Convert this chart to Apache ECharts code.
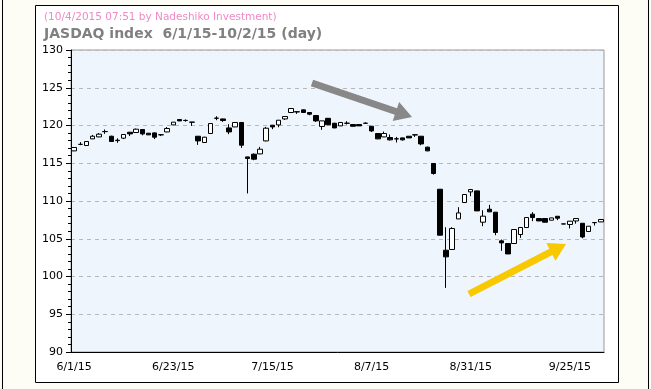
<!DOCTYPE html>
<html><head><meta charset="utf-8">
<script src="https://cdn.jsdelivr.net/npm/echarts@6/dist/echarts.min.js"></script>
<style>html,body{margin:0;padding:0;background:#fdfdf6;}#c{width:651px;height:389px;}</style>
</head><body><div id="c"></div>
<script>
const categories = [
 '6/1/15','6/2/15','6/3/15','6/4/15','6/5/15','6/8/15','6/9/15','6/10/15','6/11/15','6/12/15',
 '6/15/15','6/16/15','6/17/15','6/18/15','6/19/15','6/22/15','6/23/15','6/24/15','6/25/15','6/26/15',
 '6/29/15','6/30/15','7/1/15','7/2/15','7/3/15','7/6/15','7/7/15','7/8/15','7/9/15','7/10/15',
 '7/13/15','7/14/15','7/15/15','7/16/15','7/17/15','7/21/15','7/22/15','7/23/15','7/24/15','7/27/15',
 '7/28/15','7/29/15','7/30/15','7/31/15','8/3/15','8/4/15','8/5/15','8/6/15','8/7/15','8/10/15',
 '8/11/15','8/12/15','8/13/15','8/14/15','8/17/15','8/18/15','8/19/15','8/20/15','8/21/15','8/24/15',
 '8/25/15','8/26/15','8/27/15','8/28/15','8/31/15','9/1/15','9/2/15','9/3/15','9/4/15','9/7/15',
 '9/8/15','9/9/15','9/10/15','9/11/15','9/14/15','9/15/15','9/16/15','9/17/15','9/18/15','9/24/15',
 '9/25/15','9/28/15','9/29/15','9/30/15','10/1/15','10/2/15'
];
const openValues = [
 116.64,117.50,117.35,118.23,118.49,119.20,118.58,118.05,118.32,119.11,
 119.07,119.47,118.98,119.02,118.78,119.15,120.08,120.79,120.68,120.45,
 118.58,117.75,118.94,120.98,120.87,119.68,119.81,120.40,115.84,116.20,
 116.24,117.96,120.04,120.08,120.87,121.72,121.82,122.07,121.72,121.32,
 119.87,120.95,120.30,119.95,120.31,120.13,120.13,120.31,119.90,118.94,
 118.49,118.41,118.24,118.36,118.58,118.77,118.58,117.13,114.97,111.56,
 103.48,103.58,107.63,109.80,111.21,111.34,107.19,108.91,108.52,104.72,
 104.37,104.37,105.56,106.49,108.25,107.68,107.68,107.46,107.98,106.97,
 106.89,107.36,107.05,105.96,107.15,107.23
];
const closeValues = [
 117.09,117.50,117.88,118.58,118.85,119.19,117.88,118.00,118.81,118.89,
 119.51,118.89,118.76,118.45,118.76,119.60,120.44,120.61,120.66,120.44,
 117.96,118.45,120.26,120.96,120.66,119.15,120.40,117.39,115.63,115.54,
 116.86,119.64,119.81,120.70,121.19,122.25,121.80,121.72,121.50,120.61,
 120.61,120.10,119.68,120.40,120.29,119.90,119.95,120.29,119.28,118.23,
 118.94,118.10,118.22,118.10,118.36,118.75,117.56,116.64,113.64,105.47,
 102.60,106.36,108.42,110.86,111.52,108.69,107.99,108.56,105.83,104.45,
 102.99,106.22,106.49,107.81,107.81,107.36,107.19,107.76,107.72,106.95,
 107.33,107.68,105.24,106.66,107.13,107.55
];
const lowValues = [
 116.60,117.40,117.33,118.20,118.45,118.89,117.85,117.70,118.20,118.60,
 119.05,118.70,118.74,118.20,118.60,119.10,120.05,120.58,120.50,119.95,
 117.43,117.70,118.90,120.70,120.48,118.85,119.78,117.03,111.00,115.40,
 116.20,117.90,119.51,119.77,120.74,121.70,121.54,121.70,121.36,120.48,
 119.42,120.05,119.64,119.93,120.13,119.84,119.93,120.25,119.15,118.20,
 118.47,118.01,117.75,118.00,118.34,118.49,117.39,116.60,113.50,105.45,
 98.49,103.56,107.60,109.78,110.64,108.67,106.66,108.54,105.47,103.40,
 102.97,104.35,105.11,106.47,107.33,107.34,107.17,107.44,107.46,106.93,
 106.36,107.00,105.06,105.94,106.75,107.21
];
const highValues = [
 117.11,117.80,117.90,118.75,119.00,119.47,118.65,118.30,118.85,119.15,
 119.60,119.50,119.00,119.10,118.80,119.80,120.46,120.80,120.80,120.46,
 118.60,118.50,120.30,121.23,120.90,120.17,120.42,120.42,115.86,116.30,
 117.17,119.81,120.06,120.72,121.20,122.27,121.84,122.10,121.74,121.40,
 120.63,121.00,120.35,120.42,120.57,120.15,120.15,120.40,119.92,118.96,
 119.20,118.81,118.49,118.38,118.60,118.78,118.60,117.20,115.00,111.58,
 106.53,106.53,109.18,110.90,111.54,111.36,108.78,109.49,108.54,104.90,
 104.39,106.24,106.51,107.83,108.52,107.70,107.70,107.78,108.00,106.99,
 107.35,107.70,107.07,106.68,107.16,107.57
];
const yTicks = [90, 95, 100, 105, 110, 115, 120, 125, 130];
const titleMain = 'JASDAQ index  6/1/15-10/2/15 (day)';
const titleSub = '(10/4/2015 07:51 by Nadeshiko Investment)';

const candleData = openValues.map((o, i) => [o, closeValues[i], lowValues[i], highValues[i]]);

function arrow(x1, y1, x2, y2, sw, hl, hw) {
  const dx = x2 - x1, dy = y2 - y1, L = Math.hypot(dx, dy);
  const ux = dx / L, uy = dy / L, nx = -uy, ny = ux;
  const bx = x2 - ux * hl, by = y2 - uy * hl;
  return [
    [x1 + nx * sw, y1 + ny * sw], [bx + nx * sw, by + ny * sw], [bx + nx * hw, by + ny * hw],
    [x2, y2], [bx - nx * hw, by - ny * hw], [bx - nx * sw, by - ny * sw], [x1 - nx * sw, y1 - ny * sw]
  ];
}

const FONT = 'DejaVu Sans';
const chart = echarts.init(document.getElementById('c'), null, {renderer: 'canvas'});
chart.setOption({
  backgroundColor: '#fdfdf6',
  animation: false,
  textStyle: {fontFamily: FONT},
  graphic: [
    {type: 'rect', z: -10, shape: {x: 35.5, y: 5.5, width: 583, height: 377}, style: {fill: '#ffffff', stroke: '#000', lineWidth: 1}},
    {type: 'line', z: -10, shape: {x1: 2.5, y1: 0, x2: 2.5, y2: 389}, style: {stroke: '#000', lineWidth: 1}},
    {type: 'line', z: -10, shape: {x1: 648.5, y1: 0, x2: 648.5, y2: 389}, style: {stroke: '#000', lineWidth: 1}},
    {type: 'text', left: 44, top: 12, style: {text: titleSub, fill: '#f088c8', font: '10.5px "DejaVu Sans"'}},
    {type: 'text', left: 44, top: 27, style: {text: titleMain, fill: '#808080', font: 'bold 14px "DejaVu Sans"'}},
    {type: 'polygon', z: 100, shape: {points: arrow(312, 83, 412, 117, 3.5, 17, 10)}, style: {fill: '#888888'}},
    {type: 'polygon', z: 100, shape: {points: arrow(469, 294, 566, 244, 3.5, 17, 10)}, style: {fill: '#f8c800'}}
  ],
  grid: {left: 71, right: 47, top: 50, bottom: 37, show: true, backgroundColor: '#eef5fd', borderColor: '#999999', borderWidth: 1},
  xAxis: [{
    type: 'category', data: categories, boundaryGap: true,
    axisLine: {lineStyle: {color: '#000', width: 1}},
    axisTick: {interval: 3, length: 4, lineStyle: {color: '#000'}},
    axisLabel: {interval: 15, color: '#000', fontSize: 11, fontFamily: FONT, margin: 10},
    splitLine: {show: false}
  }, {
    type: 'category', data: categories, boundaryGap: true, position: 'bottom', gridIndex: 0,
    axisLine: {show: false},
    axisTick: {interval: 15, length: 7, lineStyle: {color: '#000'}},
    axisLabel: {show: false}
  }],
  yAxis: {
    type: 'value', min: yTicks[0], max: yTicks[yTicks.length - 1], interval: 5,
    axisLine: {show: true, lineStyle: {color: '#000'}},
    axisTick: {show: true, length: 5, lineStyle: {color: '#000'}},
    minorTick: {show: true, splitNumber: 5, length: 3, lineStyle: {color: '#000'}},
    axisLabel: {color: '#000', fontSize: 11, fontFamily: FONT, margin: 8},
    splitLine: {show: true, lineStyle: {color: '#b8b8b8', type: [4, 4], width: 1}}
  },
  series: [{
    type: 'candlestick', data: candleData, barWidth: 5,
    itemStyle: {color: '#ffffff', color0: '#000000', borderColor: '#000000', borderColor0: '#000000', borderWidth: 1}
  }]
});
</script></body></html>
